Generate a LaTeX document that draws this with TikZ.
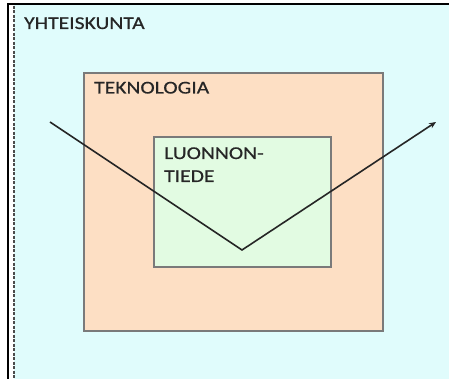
\documentclass[tikz,border=0pt]{standalone}
\usepackage{fontspec}
\newfontfamily\lbl[FakeStretch=1.2,FakeBold=0.6]{Carlito}
\usetikzlibrary{arrows.meta}
\definecolor{cyanbg}{HTML}{E0FCFC}
\definecolor{peach}{HTML}{FDDFC4}
\definecolor{mint}{HTML}{E2FBE2}
\definecolor{edge}{HTML}{7A7A7A}
\tikzset{
  box/.style={draw=edge, line width=1.6pt},
  boxlabel/.style={anchor=base west, inner sep=0pt, font=\lbl\fontsize{18}{23}\selectfont, text=black!85, align=left},
  path/.style={draw=black!85, line width=1.6pt}
}
\begin{document}
\begin{tikzpicture}[x=1pt,y=-1pt]
\useasboundingbox (0,0) rectangle (449,379);
\fill[white] (0,0) rectangle (449,379);
\fill[cyanbg] (14,5) rectangle (449,379);
\draw[black, line width=1.4pt] (8,379) -- (8,4) -- (449,4);
\draw[black!70, line width=1.1pt, dash pattern=on 3pt off 1.5pt] (14,6) -- (14,379);
\draw[box, fill=peach] (84,73) rectangle (383,331);
\draw[box, fill=mint] (154,137) rectangle (331,267);
\node[boxlabel] (yht) at (24,29) {YHTEISKUNTA};
\node[boxlabel] (tek) at (94,93.5) {TEKNOLOGIA};
\node[boxlabel] (luo) at (164,182) {LUONNON-\\TIEDE};
\coordinate (s) at (50,122);
\coordinate (v) at (242,250);
\coordinate (e) at (436,122);
\draw[path, -{Stealth[length=7pt,width=6pt]}] (s) -- (v) -- (e);
\end{tikzpicture}
\end{document}
